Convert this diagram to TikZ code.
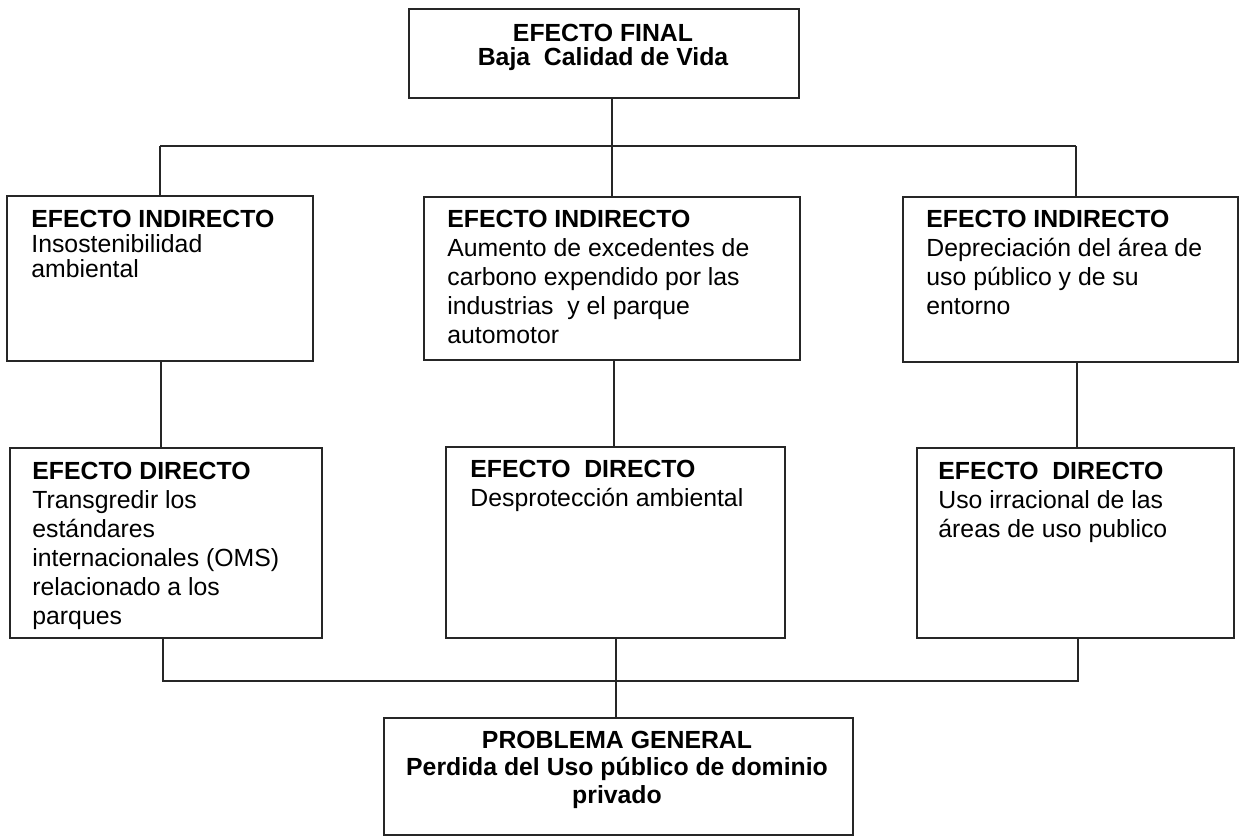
\documentclass[tikz,border=0pt]{standalone}
\usepackage{fontspec}
\setmainfont{Liberation Sans}
\begin{document}
\begin{tikzpicture}[x=0.5pt,y=-0.5pt,
  box/.style={draw=black!85,line width=1pt,rectangle,inner sep=0pt,anchor=north west},
  conn/.style={draw=black!85,line width=1pt},
  txtL/.style={anchor=north west,inner sep=0pt,align=left,text=black},
  txtC/.style={anchor=north,inner sep=0pt,align=center,text=black,font=\bfseries}]
\useasboundingbox (0,0) rectangle (1240,836);
% boxes
\node[box,minimum width=195pt,minimum height=44.5pt] (top) at (408,8) {};
\node[box,minimum width=153pt,minimum height=82.5pt] (li) at (6,195) {};
\node[box,minimum width=188pt,minimum height=81.5pt] (mi) at (423,196) {};
\node[box,minimum width=167.5pt,minimum height=82.5pt] (ri) at (902,196) {};
\node[box,minimum width=156pt,minimum height=95pt] (ld) at (9,447) {};
\node[box,minimum width=169.5pt,minimum height=95.5pt] (md) at (445,446) {};
\node[box,minimum width=158.5pt,minimum height=95pt] (rd) at (916,447) {};
\node[box,minimum width=234.5pt,minimum height=58.5pt] (pg) at (383,717) {};
% texts
\node[txtC,font=\bfseries\fontsize{12.4}{12}\selectfont] (ttop) at (603,23.5) {EFECTO FINAL\\Baja~~Calidad de Vida};
\node[txtL,font=\fontsize{12.4}{12.5}\selectfont] (tli) at (31,209.5) {\textbf{EFECTO INDIRECTO}\\Insostenibilidad\\ambiental};
\node[txtL,font=\fontsize{12.4}{14.5}\selectfont] (tmi) at (447,209.5) {\textbf{EFECTO INDIRECTO}\\Aumento de excedentes de\\carbono expendido por las\\industrias~~y el parque\\automotor};
\node[txtL,font=\fontsize{12.4}{14.5}\selectfont] (tri) at (926,209.5) {\textbf{EFECTO INDIRECTO}\\Depreciación del área de\\uso público y de su\\entorno};
\node[txtL,font=\fontsize{12.4}{14.5}\selectfont] (tld) at (32,461.5) {\textbf{EFECTO DIRECTO}\\Transgredir los\\estándares\\internacionales (OMS)\\relacionado a los\\parques};
\node[txtL,font=\fontsize{12.4}{14.5}\selectfont] (tmd) at (470,459.5) {\textbf{EFECTO~~DIRECTO}\\Desprotección ambiental};
\node[txtL,font=\fontsize{12.4}{14.5}\selectfont] (trd) at (938,461.5) {\textbf{EFECTO~~DIRECTO}\\Uso irracional de las\\áreas de uso publico};
\node[txtC,font=\bfseries\fontsize{12.4}{13.75}\selectfont] (tpg) at (617,730.5) {PROBLEMA GENERAL\\Perdida del Uso público de dominio\\privado};
% junctions
\coordinate (jt) at (612,146);
\coordinate (jl) at (160,146);
\coordinate (jr) at (1076,146);
\coordinate (bl) at (163,681);
\coordinate (bm) at (616,681);
\coordinate (br) at (1078,681);
% connectors top
\draw[conn] (top.south -| jt) -- (jt);
\draw[conn] (jl) -- (jr);
\draw[conn] (jl) -- (li.north -| jl);
\draw[conn] (jt) -- (mi.north -| jt);
\draw[conn] (jr) -- (ri.north -| jr);
% indirect to direct
\draw[conn] (li.south -| 161,0) -- (ld.north -| 161,0);
\draw[conn] (mi.south -| 614,0) -- (md.north -| 614,0);
\draw[conn] (ri.south -| 1077,0) -- (rd.north -| 1077,0);
% bottom
\draw[conn] (ld.south -| bl) -- (bl) -- (br) -- (rd.south -| br);
\draw[conn] (md.south -| bm) -- (pg.north -| bm);
\end{tikzpicture}
\end{document}
